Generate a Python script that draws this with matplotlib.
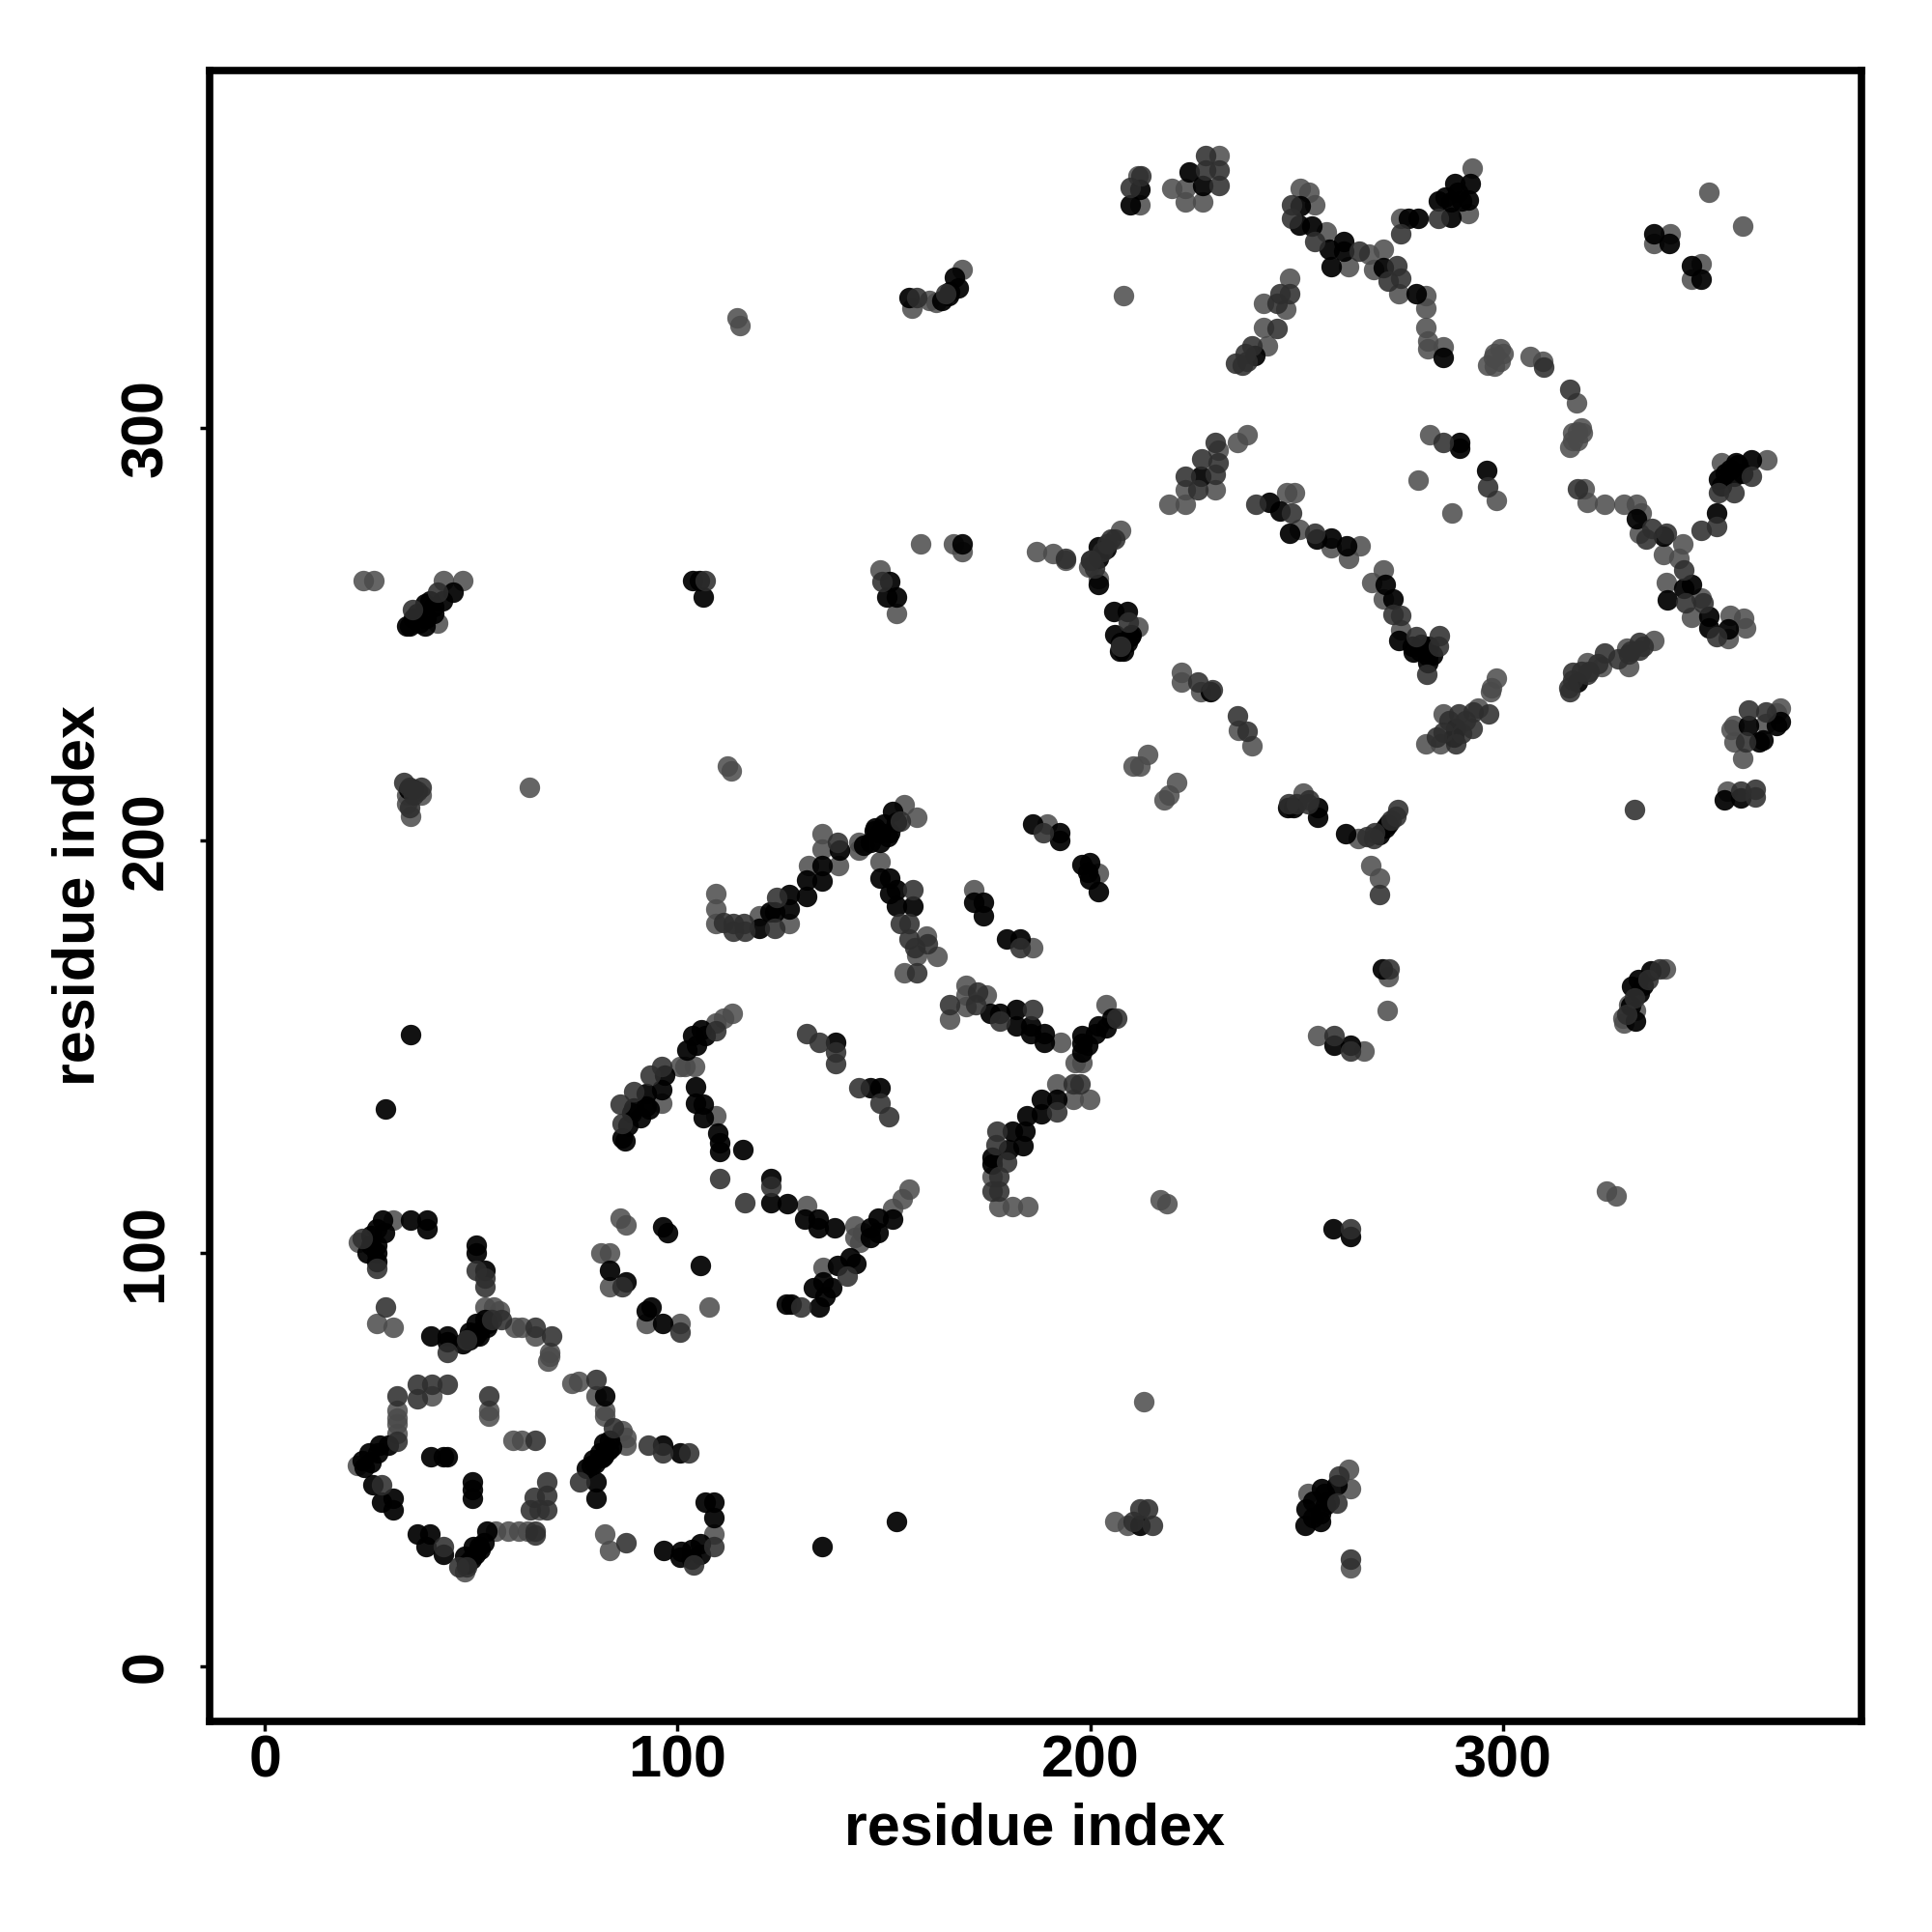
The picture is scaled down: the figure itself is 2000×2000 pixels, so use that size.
import numpy as np
import matplotlib
matplotlib.use("Agg")
import matplotlib.pyplot as plt

# contacts as (residue, residue), one list per grey level
gray_points = [
    (31,108),(22.7,102.8),(27.1,83),(31.1,82),(53.4,87),(55.5,87),(56.8,86),(60.5,82),(62.2,82),(65.4,80),
    (69,76),(69,75),(68.5,74),(87.4,107),(81.5,100),(83.5,100),(83.5,92),(107.6,87),(92.5,83),(100.5,83),
    (74.4,68.6),(76,69),(80.3,65.5),(82.4,62),(82.4,60.5),(86.6,57),(87.4,55.5),(87.4,53.6),(108.7,32),
    (82.4,32),(83.5,28),(32,62),(32,60.1),(32,58.6),(32,56.3),(22.3,48.7),(40.4,65.5),(54.2,62),(54.2,60.5),
    (60.1,54.7),(62.2,54.7),(66.4,37.8),(55.9,32.8),(58.9,32.8),(61.4,32.8),(63.5,32.8),(48.4,22.8),
    (109.2,187.1),(109.2,183.4),(109.2,180),(119.9,181.9),(127,180),(131.8,193.9),(135,201.8),(135,198),
    (139,193.9),(144,199.7),(144,197.8),(154.8,208.8),(157.9,205.7),(149,194.9),(160.2,176.8),(157.9,172.2),
    (162.8,172),(154.8,168.1),(171.8,188.1),(186,174.1),(189.6,204),(201.9,192),(170,165),(170,162.5),
    (174.9,162.5),(170,159.8),(166,156.8),(192.9,151.2),(203.8,160.2),(196.3,146.2),(198,146.2),
    (191.8,141.1),(195.8,137.3),(199.8,137.3),(176.2,118.5),(177.8,111.3),(181.1,111.3),(184.9,111.3),
    (113.2,158.2),(111.1,157),(109.2,155.9),(104,145.4),(101.8,145.4),(100.5,145.4),(96.2,136.5),
    (109.2,133.4),(131.2,111.5),(86.2,108.5),(156.2,115.5),(154.4,113.2),(152.1,110.9),(143,106.6),(143,103.9),
    (135.2,96.7),(144.2,102.7),(144.8,105),
    (211.6,361.1),(212,354),(219.7,358),(223,358),(223,354.8),(227.3,354.8),(231.2,366),(251,358),(253.1,357),
    (254.3,354),(257.3,347.6),(262.5,339.2),(267.5,342.1),(271.1,343.2),(268.7,338.4),(274.7,332.6),(281.3,332.1),
    (281.3,329),(281.3,324.4),(281.9,321),(281.9,319.1),(285.5,319.6),(292.5,363),(291.6,352),(275.3,350.8),
    (248.3,336.3),(241.9,330.2),(247.3,328.8),(242,324.4),(242.9,320),(349.9,357),(358,349),(340.6,347.1),
    (336.6,344.7),(348,339.9),(345.6,336),(296.4,315.2),(297.6,317.2),(299.4,319.1),(299.4,316.2),(306.6,317.4),
    (309.6,316.2),(317.8,306.2),(319.2,298.8),(316.8,298.8),(316.2,295.4),(318,296.9),(282.3,298.3),(298.5,282.4),
    (279.5,287.4),(287.6,279.5),(238.1,298.3),(235.7,296.4),(230.9,294.5),(223,285.1),(230.3,285.1),(219.1,281.4),
    (223,281.4),(247.7,284.3),(249.5,284.3),(250.7,275.4),(265.4,271.5),(258.3,271),(262.5,268.4),(271.1,265.5),
    (268.1,262.6),(271.1,258.5),(275.3,251),(207.4,275.1),(199.6,266.4),(202,263.5),(211.6,251.9),(222.1,240.8),
    (222.1,238.4),(226.7,236),(236,226.8),(239.3,222.9),(336.6,248.6),(330,246.6),(330.6,242.3),(320.4,243.2),
    (324,242.3),(364,292.2),(352.9,291.6),(319.8,285.3),(320.4,281.9),(324.6,281.4),(329.4,281.4),(332.4,281.4),
    (333.6,279.5),(333,274.6),(339,269.3),(343.5,271.8),(342.6,268.4),(339.6,262.6),(348,258.7),(345.6,254.2),
    (355,254.6),(358.3,253.9),(358.9,251.5),(354.7,249),(367.3,232.1),(363.7,228.3),(355.9,227.8),(355.9,223.9),
    (298.5,239.4),(297.3,237),(297,236),(285.5,230.7),(294,232.2),(281.3,223.4),(284.9,223.4),
    (23.9,263),(26.3,263),(43.3,263),(48,263),(41.8,252.8),(34.3,211),(37.9,211),(34.3,209),(35.2,206),(64.2,213),
    (114.3,326.6),(115.2,324.8),(112,218),(113,217),(149,265.7),(153,255),(159,272),(166.9,272),(169,270),(187,270),
    (191,269.6),(194,268),(156.7,329),(161,331),(162.7,330.5),(169,338.5),(208,332),(210.4,218),(212,218),(214,221),
    (221,214),(218,210),(219,211),(268,194),(270,191),(272.2,167),(272,158.8),(255,152.8),(266.3,149),(217,113),
    (218.5,112),(325,115.2),(327.5,114),(339.4,169),(330.4,160.3),(332.2,158.8),(329,157),(329.3,155.8),(213,64),
    (206,35),(209,34),(262.7,47.8),(252.8,41.8),(263,43),(263,23.9),(251.6,211.6),(265,200.6),(354.3,212),
    (355.2,226.9),(358.2,220),(366.3,231),(298,315),(300,318),(298,318),(318,299),(317,297),(319,300),
]
mid_points = [
    (23.6,103.6),(27.2,96.3),(51.3,96),(53.4,92),(53.4,94),(29.2,87),(44.2,76),(48.8,79),(55,84),(57.2,84),(65.4,82),
    (69.4,80),(86.6,92),(100.5,81),(80.3,69.4),(84.5,57.8),(92.9,53.6),(96.5,51.7),(102.6,51.7),(76.3,44.7),(108.7,29),
    (103.8,24.4),(87.4,30),(32,65.5),(32,54.4),(28.2,44),(37,68.4),(40.4,68.4),(44.2,68.4),(37,64.7),(54.2,65.5),
    (65.4,54.7),(68.4,44.7),(65.2,40.9),(68.4,41.3),(64.3,37.8),(68.4,37.8),(43.3,29),(65.4,32.8),(65.4,31.7),(48.8,24),
    (111.2,180.1),(113.4,180),(113.4,178),(116,180),(116.3,178),(123.6,178.8),(124.1,186.2),(138.8,199.7),(153.9,204.8),
    (157,188.1),(153.9,180),(156.2,180),(156.2,176.1),(157.5,174.1),(160.6,174.9),(157.9,168.1),(182.9,174.1),(188.7,202),
    (172.6,163.3),(172.2,160.2),(166,160.2),(178,156.3),(186,159.2),(206.5,157),(195.8,141.1),(197.6,141.1),(191.8,134.2),
    (177.5,129.5),(177.1,126.4),(179.8,122.1),(177.8,118.5),(176.2,115.1),(177.8,115.1),(109.2,153.9),(96.2,145.4),
    (93.3,143.1),(89.3,139.2),(86.2,136.1),(86.6,131.4),(110.3,118.2),(122.7,116.3),(116.2,112.4),(131.2,153.2),(134.3,151.2),
    (138.2,148.9),(138.2,146),(144,140.2),(149,136.5),(151.1,133.2),(129.9,87),(141.2,94.6),
    (212.2,361.1),(209.6,358.2),(227.9,362.6),(227.9,366),(231.2,362.6),(231.2,358.7),(248.9,354),(248.9,350.8),(254.3,345.2),
    (265.1,342.8),(274.4,339.4),(272.3,335.5),(275.3,336.2),(284.3,350.8),(275.3,347.1),(248.3,332.6),(245.9,332.6),
    (245.3,330.2),(245.3,324.2),(239.3,320),(237.5,318.1),(235.1,315.7),(236.9,315.2),(238.1,316.2),(309.8,314.7),(316.2,309.4),
    (285.5,296.4),(296.4,285.8),(230.3,296.4),(227,292.5),(230.9,291.6),(223,288.2),(230.3,288.7),(226,285.1),(240.2,281.4),
    (248.9,279.5),(254.3,274.6),(273.3,254.8),(275.3,254.6),(278.9,249.5),(284.6,249.7),(284.3,247.1),(281.6,240.3),(205,273.2),
    (200.2,267.9),(194,268.4),(209.2,252.9),(207.4,247.1),(226,238.4),(229.7,236.5),(235.7,230.2),(238.1,226.5),(333,248.1),
    (333,246.1),(330.6,245.2),(324.6,245.5),(320.4,240.3),(316.8,240.8),(316.2,236),(360.1,288.2),(352.3,284.3),(355.9,284.3),
    (351.7,276.1),(348,275.1),(318,285.3),(336,275.6),(339.6,274.6),(334.8,273.2),(343.8,265.5),(344.4,257.7),(348.6,257.7),
    (351.7,249.5),(363.7,231.2),(359.5,231.6),(358.9,223.9),(289.2,230.7),(292.8,231.2),(296.6,230.7),(285.5,226.3),(292.5,227.3),
    (288.6,223.4),(35.8,256),(41.8,260.3),(33.7,214),(37.9,213),(106.6,263),(149.6,262.7),(158,331.6),(165,332.5),(332,207.5),
    (270,187),(272.5,169),(259,152.8),(263,149),(263,106),(338,169),(335.2,166.3),(332,161.8),(212,38),(214,38),(215,34),(210.4,35),
    (260.3,46),(259.7,39.4),(263,26),(252.8,209),(268.7,200.6),(274.6,207.5),(357.6,212),(361.2,212.5),(361.2,210.7),
    (316,237),(317,239),(319,241),(321,241),(323,243),(328,244),(331,246),(334,247),(273,205),(274,206),(269,202),(267,201),
    (250,209),(253,210),(248,209),(35,213),(36,211),(37,212),(35,208),(330,158),(287,229),(291,229),(284,225),(290,226),
    (203,270),(204,272),(206,273),(200,268),(201,266),(47,24),
]
dark_points = [
    (28.6,108),(35.2,108),(39.3,108),(39.3,106),(29,105),(27,106),(25.7,104.4),(25.7,102),(27,102),(24.8,100),(27,100),(27.2,98),
    (51.3,102),(51.3,100),(53.4,96),(40.2,80),(44.2,80),(44.2,78.5),(49.6,79),(50.9,80),(49.6,81),(51.7,81),(51.3,83),(53.8,82),
    (53.4,84),(97.5,105),(83.5,96),(105.6,97),(87.4,93),(93.5,87),(92.5,86),(96.5,83),(82.4,65.5),(82,54),(83.6,54.8),(83.2,52.4),
    (81.1,51.7),(79.5,50.1),(81.6,50.5),(79,48.6),(96.5,53.6),(100.5,51.7),(80.3,44.7),(80.3,40.7),(108.7,39.7),(106.8,39.7),
    (108.7,35.9),(105.5,29.7),(103.4,28.2),(105.5,27),(100.9,27.8),(96.7,28),(100.5,26.3),(103.4,25.9),(27.8,53.6),(29.9,53.6),
    (25.3,51.7),(27.4,51.7),(23.6,49.7),(25.7,49.4),(24,48.2),(26.1,44),(28.2,39.7),(31.1,40.7),(31.1,37.8),(40.2,50.7),(43.3,50.7),
    (44.2,50.7),(50.3,44.7),(50.3,42.8),(50.3,40.7),(37,32),(40,32),(39.1,29),(43.3,27),(53.8,32.8),(53,30),(50.5,29),(48.4,26.7),
    (50.9,27),(48.8,24.7),(52.1,28.2),
    (119.9,178.8),(122.3,182.7),(123.6,182.7),(127,186.9),(127,183.4),(131.2,190.4),(131.2,186.5),(135,193.9),(135,190.2),(139.2,197.8),
    (146.8,199.7),(147.7,202.5),(149,199.7),(149,202),(151.3,202),(152.1,207.1),(153,204.4),(149,191),(151.3,191),(151.3,187.3),
    (153,188.1),(153,184.2),(157,184.2),(171.8,185),(174,185),(174,181.9),(179.8,176.1),(182.9,176.1),(186,204),(192.7,202),(192.7,200.1),
    (198,194.3),(199.8,194.7),(199.4,192.4),(199.8,190.8),(201.9,187.7),(175.8,158.2),(178,158.2),(182,159),(182,155.1),(185.6,155.1),
    (185.6,153.2),(188.9,153.2),(188.9,151.2),(198,150.8),(198,152.8),(201.2,153.2),(203.8,154.7),(202,155.1),(205.2,157),(199.4,150.5),
    (198,148.9),(191.8,137.3),(188.2,137.3),(188.2,133.8),(184.7,133.4),(184.2,129.5),(181.1,129.5),(183.8,126),(180.2,125.2),
    (176.2,123.3),(176.2,121.7),(105.8,154.3),(106.7,152.8),(103.6,152.8),(104.5,150.5),(102.2,149.3),(96.9,143.1),(96.2,139.6),
    (92.4,138.8),(92.4,135.7),(89.3,135.3),(86.6,127.9),(87.3,127.2),(104.3,140.4),(104.3,136.5),(106.2,136.1),(106.2,133),(109.8,129.1),
    (110.3,124.8),(110.3,126.8),(115.8,125.2),(122.7,118.2),(122.7,112.4),(126.7,112),(130.8,108.2),(134,108.2),(134,106.2),(138,106.2),
    (96.4,106.4),(146.8,140.2),(149,140.2),(138.2,151.2),(152,108.2),(148.6,108.5),(146.8,106.2),(148.6,105),(146.8,103.9),
    (138.8,97),(132.8,91.6),(134.3,87),(126.3,87.8),(127.5,87.8),(135.8,89.5),(137.3,91.6),(143.3,97.6),(141.8,99),(135.2,93),
    (212,357.7),(209.8,354),(224,362.1),(227.3,358.7),(251,353.9),(250.7,349.2),(253.7,349),(257.9,343.2),(261.5,345.2),(261.5,342.8),
    (258.3,339.2),(271.1,338.9),(278.9,332.6),(285.5,317.2),(292.2,359.2),(288.3,359.2),(291.6,355.3),(287.4,354.8),(284.3,355.1),
    (287.4,351),(279.5,350.8),(277.1,350.8),(239.9,317.6),(336.6,347.1),(340.2,344.7),(345.6,339.4),(348,336),(289.5,296.4),(289.5,295),
    (296.1,289.6),(226.7,288.2),(243.5,281.9),(245.9,279.9),(248.3,274.6),(254.9,273.2),(258.3,273.4),(262.1,271.5),(271.4,262.1),
    (273.3,258.5),(274.7,248.6),(280.1,247.6),(278.3,245.7),(281.9,244.7),(281.9,243.2),(202,271.3),(203.8,270.8),(202,268.4),(202,262.1),
    (205.6,255.5),(209,255.5),(209.8,249.5),(207.4,248.1),(229.1,236),(318,238.4),(360.1,292.2),(356.5,291.6),(355.9,288.2),(352.3,287.7),
    (351.9,279.5),(332.4,278),(339,273.7),(345.6,262.1),(343.8,261.1),(339.9,258.4),(349.9,254.3),(349.9,251.5),(354.7,251.3),
    (367.3,228.8),(359.5,227.8),(363.1,224.4),(288.6,227.3),(34.3,252),(37.3,252.8),(38.8,252),(38.8,257.3),(45.7,260.3),(40.9,256.7),
    (34.9,212.5),(36,212.5),(35.2,153),(29.3,135),(105.4,263),(106.3,259),(103.6,263),(151.3,262.7),(150.7,259),(153,259),(169,272),
    (156,331.6),(165.7,332),(168,334),(167,336.5),(270.7,169),(259,150.5),(263,150.5),(258.8,106),(263,104),(335.8,168.4),(332.8,166.3),
    (331.3,164.8),(332.2,156.4),(135,29),(153,35),(212,34),(259.7,44),(256.7,41.8),(252.2,38),(255.8,37),(252,34),(255.8,35),(247.8,208),
    (249.3,208),(255.2,208),(255.2,205.7),(262,201.8),(270,201.5),(272.2,204),(271.6,203),(357.6,210.4),(353.7,210),(362,223.9),(366.3,228),
    (36,254),(41,255),(43,258),(40,258),(37,255),(35,252),(39,254),(333,163),(334,165),(331,160),(355,290),(357,291),(354,289),(358,289),
    (353,286),(288,225),(280,246),(282,247),(283,245),(278,247),(206,250),(207,246),(209,248),(208,246),(210,250),(289,357),(290,355),(286,356),
    (257,39),(254,36),(254,40),(256,43),(258,40),(89,134),(91,133),(93,135),(88,131),(148,203),(150,204),(151,201),(145,199),(166,333),(164,331),
    (50,80),(52,80),(54,83),(48,78),(50,26),(52,29),(80,49),(82,51),(84,53),(78,48),
]

tick_values = [0, 100, 200, 300]
axis_label = "residue index"

plt.rcParams["font.family"] = ["Liberation Sans", "DejaVu Sans"]
plt.rcParams["font.weight"] = "bold"

fig = plt.figure(figsize=(20, 20), dpi=100)
ax = fig.add_axes([217 / 2000, 1 - 1782 / 2000, (1927 - 217) / 2000, (1782 - 73) / 2000])

# gray underneath, black next, mid grey on top so the blobs keep some texture
for pts, col, a, z in [(gray_points, "#4a4a4a", 0.85, 2), (dark_points, "#000000", 0.93, 3), (mid_points, "#2e2e2e", 0.88, 4)]:
    arr = np.array(pts)
    ax.scatter(arr[:, 0], arr[:, 1], s=235, color=col, alpha=a, linewidths=0, zorder=z)

ax.set_xlim(-13.4, 386.9)
ax.set_ylim(-13.4, 386.6)
ax.set_xticks(tick_values)
ax.set_yticks(tick_values)
ax.tick_params(length=7, width=2.5, labelsize=44)
ax.tick_params(axis="x", pad=3)
ax.tick_params(axis="y", pad=19)
for lab in ax.get_yticklabels():
    lab.set_rotation(90)
    lab.set_va("center")
for side in ax.spines.values():
    side.set_linewidth(5.5)

fig.text(1071 / 2000, 1 - 1894 / 2000, axis_label, fontsize=44, fontweight="bold", ha="center", va="center")
fig.text(82 / 2000, 1 - 927 / 2000, axis_label, fontsize=44, fontweight="bold", ha="center", va="center", rotation=90)

fig.savefig("out.png", dpi=100)
